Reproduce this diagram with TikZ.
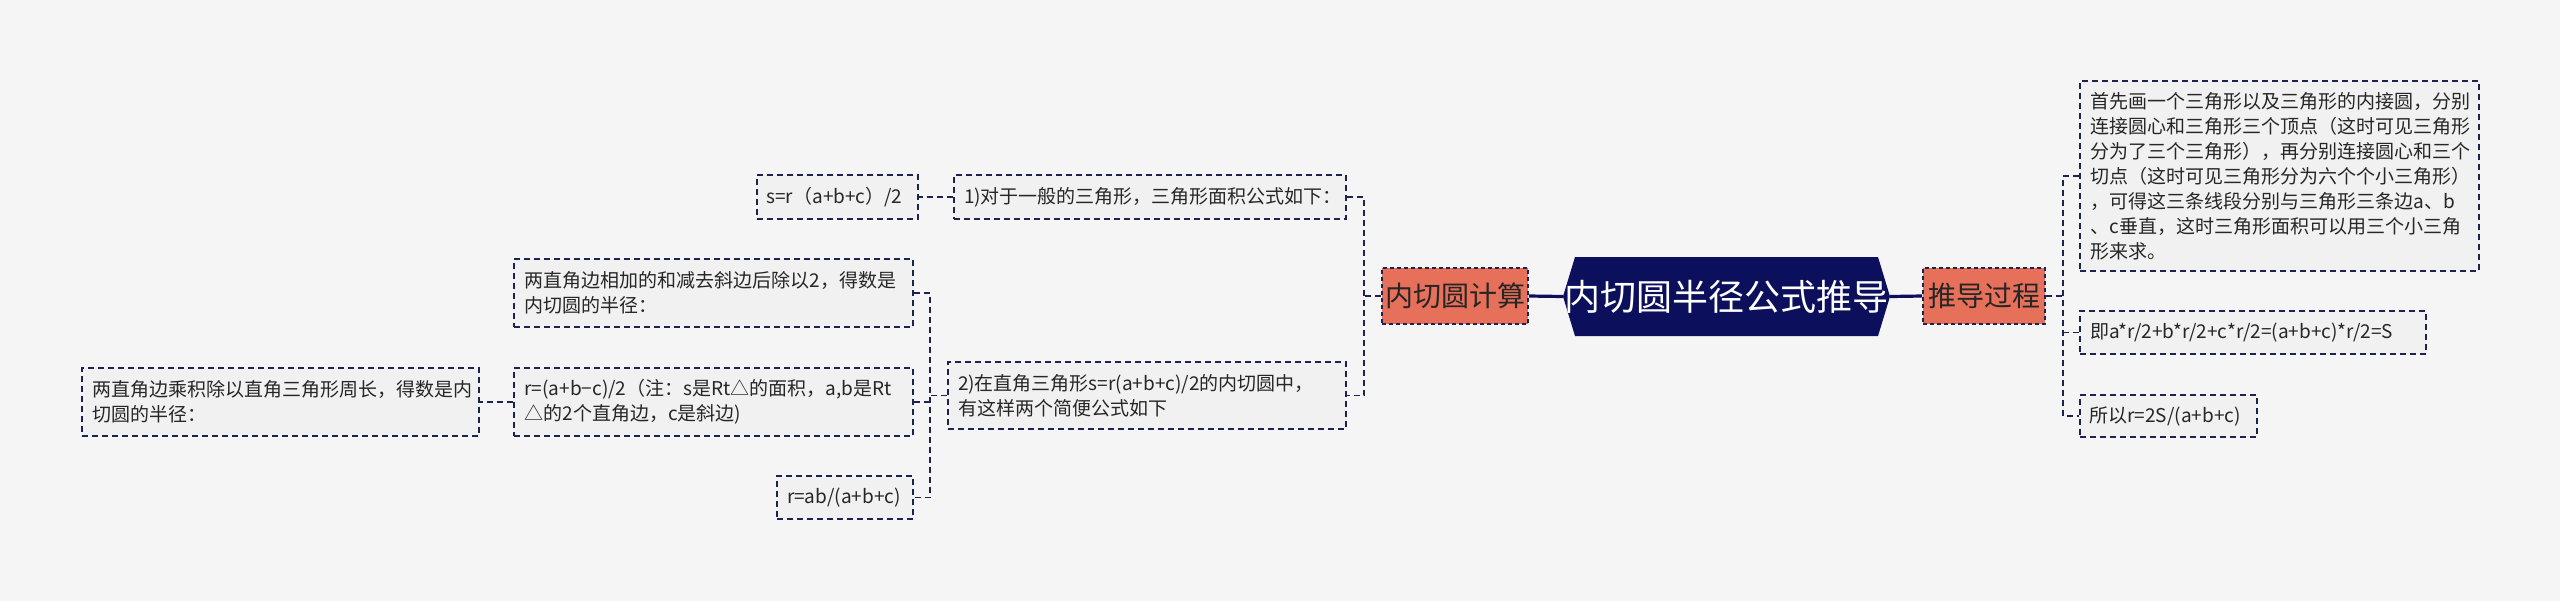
\documentclass[tikz,border=0pt]{standalone}
\usepackage{fontspec}
\setmainfont{Noto Sans CJK SC}
\definecolor{bg}{HTML}{F5F5F5}
\definecolor{boxfill}{HTML}{F1F1F1}
\definecolor{navy}{HTML}{0B0F5C}
\definecolor{edge}{HTML}{1E2250}
\definecolor{orng}{HTML}{E6705A}
\begin{document}
\begin{tikzpicture}[x=0.5pt,y=-0.5pt,
  box/.style={draw=edge,fill=boxfill,dashed,line width=0.8pt,dash pattern=on 3pt off 2pt,inner sep=0pt,font=\fontsize{9.5}{12.5}\selectfont,text=black!85},
  obox/.style={draw=edge,fill=orng,dashed,line width=0.8pt,dash pattern=on 2pt off 1.5pt,inner sep=0pt,font=\fontsize{14}{16}\selectfont,text=black!85},
  conn/.style={draw=edge,line width=0.8pt,dash pattern=on 3pt off 2pt},
  solid conn/.style={draw=navy,line width=1.6pt}]
\fill[bg] (0,0) rectangle (2560,601);
% center
\coordinate (c) at (1726.5,296.5);
\fill[navy] (1575,257) -- (1878,257) -- (1890,296.5) -- (1878,336) -- (1575,336) -- (1563,296.5) -- cycle;
\node[text=white,font=\fontsize{18}{20}\selectfont] (center) at (c) {内切圆半径公式推导};
\coordinate (cw) at (1563,296.5);
\coordinate (ce) at (1890,296.5);
% orange
\node[obox,minimum width=73pt,minimum height=28pt] (nq) at (1455,296) {内切圆计算};
\node[obox,minimum width=61pt,minimum height=28pt] (td) at (1984,296) {推导过程};
\draw[solid conn] (cw) -- (nq.east);
\draw[solid conn] (ce) -- (td.west);
% right side
\node[box,minimum width=199.5pt,minimum height=95pt,text width=189pt,align=left] (big) at (2279.5,176) {首先画一个三角形以及三角形的内接圆，分别\\连接圆心和三角形三个顶点（这时可见三角形\\分为了三个三角形），再分别连接圆心和三个\\切点（这时可见三角形分为六个个小三角形）\\，可得这三条线段分别与三角形三条边a、b\\、c垂直，这时三角形面积可以用三个小三角\\形来求。};
\node[box,minimum width=173pt,minimum height=21.5pt,text width=163pt,align=left] (ji) at (2253,332.5) {即a*r/2+b*r/2+c*r/2=(a+b+c)*r/2=S};
\node[box,minimum width=88.5pt,minimum height=21pt,text width=79pt,align=left] (so) at (2168.5,416) {所以r=2S/(a+b+c)};
\coordinate (rb) at (2063,296);
\draw[conn] (td.east) -- (rb);
\draw[conn] (big.west) -- (2063,176) -- (2063,416) -- (so.west);
\draw[conn] (2063,332.5) -- (ji.west);
% left side
\node[box,minimum width=196pt,minimum height=22pt,text width=186pt,align=left] (one) at (1150,197) {1)对于一般的三角形，三角形面积公式如下：};
\node[box,minimum width=199pt,minimum height=33.5pt,text width=189pt,align=left] (two) at (1147,395.5) {2)在直角三角形s=r(a+b+c)/2的内切圆中，\\有这样两个简便公式如下};
\coordinate (lb) at (1364,296);
\draw[conn] (nq.west) -- (lb);
\draw[conn] (one.east) -- (1364,197) -- (1364,395.5) -- (two.east);
\node[box,minimum width=80.5pt,minimum height=22pt,text width=71pt,align=left] (s) at (837.5,197) {s=r（a+b+c）/2};
\draw[conn] (one.west) -- (s.east);
\node[box,minimum width=199.5pt,minimum height=34pt,text width=189pt,align=left] (add) at (713.5,293) {两直角边相加的和减去斜边后除以2，得数是\\内切圆的半径：};
\node[box,minimum width=199.5pt,minimum height=34pt,text width=189pt,align=left] (rabc) at (713.5,402) {r=(a+b−c)/2（注：s是Rt△的面积，a,b是Rt\\△的2个直角边，c是斜边)};
\node[box,minimum width=68pt,minimum height=21.5pt,text width=58pt,align=left] (rab) at (845,497.5) {r=ab/(a+b+c)};
\node[box,minimum width=198.5pt,minimum height=34pt,text width=188pt,align=left] (prod) at (280.5,402) {两直角边乘积除以直角三角形周长，得数是内\\切圆的半径：};
\draw[conn] (two.west) -- (930,395.5);
\draw[conn] (add.east) -- (930,293) -- (930,497.5) -- (rab.east);
\draw[conn] (930,402) -- (rabc.east);
\draw[conn] (rabc.west) -- (prod.east);
\end{tikzpicture}
\end{document}
